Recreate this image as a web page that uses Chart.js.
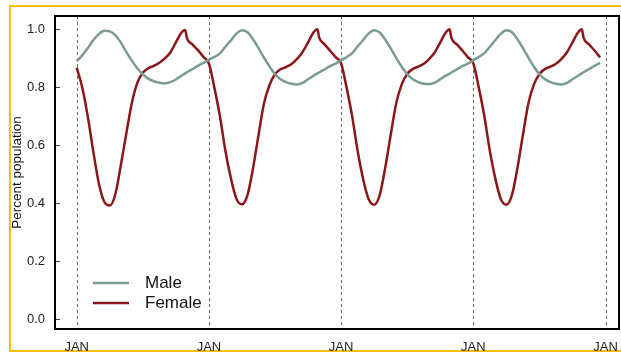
<!DOCTYPE html>
<html>
<head>
<meta charset="utf-8">
<script src="https://cdn.jsdelivr.net/npm/chart.js@4.4.1/dist/chart.umd.min.js"></script>
<style>
  html, body { margin: 0; padding: 0; background: #fff; }
  #wrap { width: 621px; height: 353px; position: relative; }
</style>
</head>
<body>
<div id="wrap"><canvas id="chart"></canvas></div>
<script>
const seriesNames = ["Male", "Female"];
const janTicks = [0, 12, 24, 36, 48];
const janLabel = "JAN";
const yTicks = [0, 0.2, 0.4, 0.6, 0.8, 1.0];
const years = [0, 1, 2, 3];
// where each sample sits inside its year (months after JAN)
const monthSteps = [0, 0.5, 1, 1.5, 2, 2.5, 3, 3.5, 4, 4.5, 5, 5.5, 6, 6.5, 7, 7.5, 8, 8.5, 9, 9.5, 9.85, 10, 10.5, 11, 11.5];

const maleByYear = [
  [0.890, 0.910, 0.935, 0.962, 0.983, 0.995, 0.993, 0.980, 0.955, 0.922, 0.892, 0.866, 0.845, 0.830, 0.821, 0.816, 0.814, 0.818, 0.827, 0.840, 0.848, 0.852, 0.863, 0.874, 0.884],
  [0.895, 0.905, 0.917, 0.940, 0.962, 0.985, 0.997, 0.990, 0.966, 0.935, 0.902, 0.872, 0.845, 0.828, 0.818, 0.812, 0.810, 0.815, 0.828, 0.840, 0.848, 0.851, 0.862, 0.873, 0.882],
  [0.893, 0.904, 0.918, 0.941, 0.963, 0.986, 0.997, 0.989, 0.965, 0.934, 0.901, 0.871, 0.845, 0.828, 0.818, 0.812, 0.811, 0.816, 0.828, 0.840, 0.847, 0.851, 0.862, 0.873, 0.882],
  [0.893, 0.905, 0.918, 0.940, 0.963, 0.985, 0.997, 0.990, 0.966, 0.935, 0.902, 0.871, 0.845, 0.828, 0.818, 0.812, 0.810, 0.815, 0.828, 0.840, 0.848, 0.852, 0.863, 0.874, 0.884]
];

const femaleByYear = [
  [0.868, 0.800, 0.700, 0.580, 0.470, 0.405, 0.392, 0.430, 0.530, 0.640, 0.745, 0.815, 0.850, 0.866, 0.874, 0.885, 0.900, 0.920, 0.955, 0.988, 0.998, 0.970, 0.948, 0.928, 0.905],
  [0.882, 0.798, 0.700, 0.580, 0.485, 0.415, 0.396, 0.428, 0.520, 0.635, 0.745, 0.808, 0.845, 0.862, 0.870, 0.880, 0.898, 0.922, 0.955, 0.990, 1.000, 0.972, 0.948, 0.926, 0.904],
  [0.882, 0.798, 0.700, 0.580, 0.483, 0.414, 0.395, 0.428, 0.522, 0.636, 0.745, 0.810, 0.846, 0.863, 0.871, 0.881, 0.898, 0.921, 0.955, 0.989, 1.000, 0.971, 0.948, 0.927, 0.904],
  [0.882, 0.798, 0.700, 0.580, 0.484, 0.414, 0.395, 0.428, 0.521, 0.636, 0.745, 0.810, 0.846, 0.863, 0.871, 0.881, 0.898, 0.921, 0.955, 0.989, 1.000, 0.971, 0.948, 0.927, 0.903]
];

function toPoints(byYear) {
  const pts = [];
  years.forEach((yr, i) => {
    monthSteps.forEach((m, j) => pts.push({ x: yr * 12 + m, y: byYear[i][j] }));
  });
  return pts;
}

const colors = ["#7B9B95", "#8C171B"];
const baseFont = "'Liberation Sans', Arial, sans-serif";

// frame, dashed JAN lines, inner y ticks, legend
const decor = {
  id: "decor",
  beforeDraw(chart) {
    const ctx = chart.ctx;
    ctx.save();
    ctx.fillStyle = "#fff";
    ctx.fillRect(0, 0, chart.width, chart.height);
    ctx.strokeStyle = "#FFC000";
    ctx.lineWidth = 2;
    ctx.strokeRect(10, 6, chart.width + 20, 345);
    ctx.restore();
  },
  beforeDatasetsDraw(chart) {
    const { ctx, chartArea: a, scales } = chart;
    ctx.save();
    ctx.strokeStyle = "#666";
    ctx.lineWidth = 1;
    ctx.setLineDash([3, 3]);
    scales.x.ticks.forEach(t => {
      const px = Math.round(scales.x.getPixelForValue(t.value)) + 0.5;
      ctx.beginPath();
      ctx.moveTo(px, a.top);
      ctx.lineTo(px, a.bottom);
      ctx.stroke();
    });
    ctx.setLineDash([]);
    ctx.strokeStyle = "#444";
    scales.y.ticks.forEach(t => {
      const py = Math.round(scales.y.getPixelForValue(t.value)) + 0.5;
      ctx.beginPath();
      ctx.moveTo(a.left, py);
      ctx.lineTo(a.left + 5, py);
      ctx.stroke();
    });
    ctx.restore();
  },
  afterDraw(chart) {
    const { ctx, chartArea: a } = chart;
    ctx.save();
    ctx.strokeStyle = "#000";
    ctx.lineWidth = 2;
    ctx.strokeRect(a.left, a.top, a.right - a.left, a.bottom - a.top);
    // legend
    ctx.font = "17px " + baseFont;
    ctx.textBaseline = "middle";
    ctx.lineWidth = 2.5;
    chart.data.datasets.forEach((ds, i) => {
      const y = 283 + i * 20;
      ctx.strokeStyle = ds.borderColor;
      ctx.beginPath();
      ctx.moveTo(93, y);
      ctx.lineTo(129, y);
      ctx.stroke();
      ctx.fillStyle = "#111";
      ctx.fillText(ds.label, 145, y);
    });
    ctx.restore();
  }
};

new Chart(document.getElementById("chart"), {
  type: "line",
  data: {
    datasets: [
      { label: seriesNames[0], data: toPoints(maleByYear), borderColor: colors[0] },
      { label: seriesNames[1], data: toPoints(femaleByYear), borderColor: colors[1] }
    ]
  },
  options: {
    responsive: true,
    maintainAspectRatio: false,
    animation: false,
    events: [],
    layout: { padding: { top: 16, right: 2, left: 0, bottom: 0 } },
    elements: {
      point: { radius: 0 },
      line: { borderWidth: 2.5, cubicInterpolationMode: "monotone", fill: false, capBezierPoints: true }
    },
    plugins: { legend: { display: false }, tooltip: { enabled: false } },
    scales: {
      x: {
        type: "linear",
        min: -1.97,
        max: 49.22,
        afterBuildTicks: s => { s.ticks = janTicks.map(v => ({ value: v })); },
        afterFit: s => { s.height = 24; s.paddingLeft = 0; s.paddingRight = 0; },
        grid: { display: false, drawTicks: false },
        border: { display: false },
        ticks: { callback: () => janLabel, padding: 11, color: "#222", font: { family: baseFont, size: 13 }, maxRotation: 0 }
      },
      y: {
        min: -0.034,
        max: 1.046,
        afterBuildTicks: s => { s.ticks = yTicks.map(v => ({ value: v })); },
        afterFit: s => { s.width = 55; s.paddingTop = 0; s.paddingBottom = 0; },
        grid: { display: false, drawTicks: false },
        border: { display: false },
        ticks: { callback: v => v.toFixed(1), padding: 10, color: "#222", font: { family: baseFont, size: 13 } },
        title: { display: true, text: "Percent population", color: "#111", font: { family: baseFont, size: 13.5 }, padding: { top: 9 } }
      }
    }
  },
  plugins: [decor]
});
</script>
</body>
</html>
